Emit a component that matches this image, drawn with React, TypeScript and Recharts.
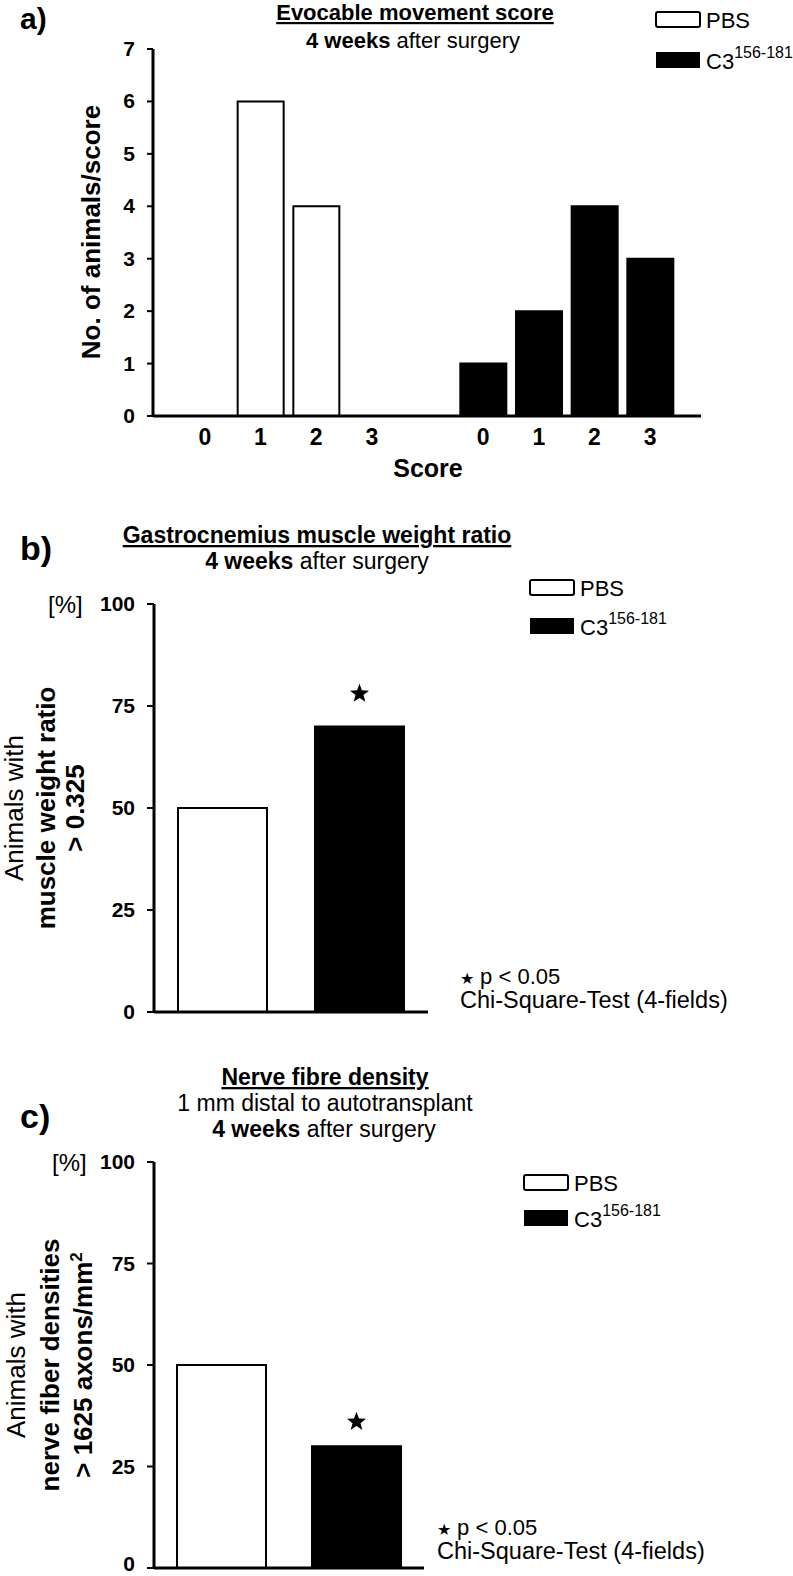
// Three bar panels: evocable movement score, muscle weight ratio, nerve fibre density
import React from 'react';
import { BarChart, Bar, XAxis, YAxis, Cell, ReferenceDot } from 'recharts';

const FONT = '"Liberation Sans", Arial, Helvetica, sans-serif';

// panel a
const scoreKeys = ['pbs0', 'pbs1', 'pbs2', 'pbs3', 'gap', 'c30', 'c31', 'c32', 'c33'];
const scoreTickLabels = ['0', '1', '2', '3', '', '0', '1', '2', '3'];
const pbsScoreCounts = [0, 6, 4, 0];
const c3ScoreCounts = [1, 2, 4, 3];
const countTicks = [0, 1, 2, 3, 4, 5, 6, 7];

// panels b + c
const groupNames = ['PBS', 'C3'];
const muscleRatioPct = [50, 70];
const nerveDensityPct = [50, 30];
const pctTicks = [0, 25, 50, 75, 100];
const muscleStarPct = 78;
const nerveStarPct = 36;

const scoreData = scoreKeys.map((key, i) => ({
  key,
  pbs: i < 4 ? pbsScoreCounts[i] : null,
  c3: i > 4 ? c3ScoreCounts[i - 5] : null,
}));
const muscleData = groupNames.map((g, i) => ({ group: g, value: muscleRatioPct[i] }));
const nerveData = groupNames.map((g, i) => ({ group: g, value: nerveDensityPct[i] }));

const barFills = ['#ffffff', '#000000'];

function YTick({ x, y, payload }: any) {
  return (
    <text x={x} y={y} dy={7} textAnchor="end" fontSize={21} fontWeight="bold" fontFamily={FONT} fill="#000">
      {payload.value}
    </text>
  );
}

// bottom panel sits on the page edge, lift its 0 a little
function YTickLow({ x, y, payload }: any) {
  return (
    <text x={x} y={y} dy={payload.value === 0 ? 3 : 7} textAnchor="end" fontSize={21} fontWeight="bold" fontFamily={FONT} fill="#000">
      {payload.value}
    </text>
  );
}

function ScoreTick({ x, y, payload }: any) {
  const label = scoreTickLabels[scoreKeys.indexOf(payload.value)];
  return (
    <text x={x} y={y} dy={21} textAnchor="middle" fontSize={23} fontWeight="bold" fontFamily={FONT} fill="#000">
      {label}
    </text>
  );
}

function Star({ cx, cy, r }: { cx: number; cy: number; r: number }) {
  const pts: string[] = [];
  for (let i = 0; i < 10; i++) {
    const rad = i % 2 === 0 ? r : r * 0.42;
    const a = -Math.PI / 2 + (i * Math.PI) / 5;
    pts.push(`${cx + rad * Math.cos(a)},${cy + rad * Math.sin(a)}`);
  }
  return <polygon points={pts.join(' ')} fill="#000" />;
}

/** legend: open box PBS, filled box C3 156-181 */
function LegendBlock({ x, y, gap }: { x: number; y: number; gap: number }) {
  return (
    <g fontFamily={FONT} fill="#000">
      <rect x={x} y={y} width={44} height={15} fill="#fff" stroke="#000" strokeWidth={2} rx={2} />
      <text x={x + 50} y={y + 16} fontSize={22}>PBS</text>
      <rect x={x} y={y + gap} width={44} height={16} fill="#000" />
      <text x={x + 50} y={y + gap + 17} fontSize={22}>
        C3
        <tspan fontSize={16} dy={-11}>156-181</tspan>
      </text>
    </g>
  );
}

function PLabel({ x, y }: { x: number; y: number }) {
  return (
    <g fontFamily={FONT} fill="#000">
      <text x={x} y={y} fontSize={22}>
        <tspan fontSize={16}>★</tspan> p &lt; 0.05
      </text>
      <text x={x} y={y + 24} fontSize={23.5}>Chi-Square-Test (4-fields)</text>
    </g>
  );
}

const axisLine = { stroke: '#000', strokeWidth: 3 };
const tickLine = { stroke: '#000', strokeWidth: 2 };

export default function App() {
  return (
    <div style={{ position: 'absolute', left: 0, top: 0, width: 793, height: 1576, background: '#fff' }}>
      {/* a) */}
      <div style={{ position: 'absolute', left: 0, top: 0 }}>
        <BarChart width={793} height={490} data={scoreData} margin={{ top: 49, right: 92, bottom: 44, left: 93 }}>
          <XAxis
            dataKey="key"
            height={30}
            interval={0}
            tickLine={false}
            tickSize={0}
            tickMargin={8}
            axisLine={axisLine}
            padding={{ left: 24, right: 23 }}
            tick={<ScoreTick />}
          />
          <YAxis
            width={60}
            domain={[0, 7]}
            ticks={countTicks}
            interval={0}
            tickSize={6}
            tickMargin={12}
            axisLine={axisLine}
            tickLine={tickLine}
            tick={<YTick />}
          />
          <Bar dataKey="pbs" stackId="s" barSize={46} fill="#fff" stroke="#000" strokeWidth={2} isAnimationActive={false} />
          <Bar dataKey="c3" stackId="s" barSize={46} fill="#000" stroke="#000" strokeWidth={2} isAnimationActive={false} />
        </BarChart>
      </div>

      {/* b) */}
      <div style={{ position: 'absolute', left: 0, top: 520 }}>
        <BarChart width={793} height={515} data={muscleData} margin={{ top: 84, right: 365, bottom: 18, left: 94 }}>
          <XAxis dataKey="group" height={5} tick={false} tickLine={false} axisLine={axisLine} />
          <YAxis
            width={60}
            domain={[0, 100]}
            ticks={pctTicks}
            interval={0}
            tickSize={7}
            tickMargin={12}
            axisLine={axisLine}
            tickLine={tickLine}
            tick={<YTick />}
          />
          <Bar dataKey="value" barSize={89} stroke="#000" strokeWidth={2} isAnimationActive={false}>
            {muscleData.map((d, i) => (
              <Cell key={d.group} fill={barFills[i]} />
            ))}
          </Bar>
          <ReferenceDot x="C3" y={muscleStarPct} r={10} shape={(p: any) => <Star cx={p.cx} cy={p.cy} r={10} />} />
        </BarChart>
      </div>

      {/* c) */}
      <div style={{ position: 'absolute', left: 0, top: 1040 }}>
        <BarChart width={793} height={536} data={nerveData} margin={{ top: 122, right: 369, bottom: 3, left: 94 }}>
          <XAxis dataKey="group" height={5} tick={false} tickLine={false} axisLine={axisLine} />
          <YAxis
            width={60}
            domain={[0, 100]}
            ticks={pctTicks}
            interval={0}
            tickSize={7}
            tickMargin={12}
            axisLine={axisLine}
            tickLine={tickLine}
            tick={<YTickLow />}
          />
          <Bar dataKey="value" barSize={89} stroke="#000" strokeWidth={2} isAnimationActive={false}>
            {nerveData.map((d, i) => (
              <Cell key={d.group} fill={barFills[i]} />
            ))}
          </Bar>
          <ReferenceDot x="C3" y={nerveStarPct} r={10} shape={(p: any) => <Star cx={p.cx} cy={p.cy} r={10} />} />
        </BarChart>
      </div>

      {/* text overlay */}
      <svg width={793} height={1576} style={{ position: 'absolute', left: 0, top: 0, pointerEvents: 'none' }}>
        <g fontFamily={FONT} fill="#000">
          {/* a */}
          <text x={20} y={29} fontSize={30} fontWeight="bold">a)</text>
          <text x={415} y={20} fontSize={22} fontWeight="bold" textAnchor="middle" textDecoration="underline">
            Evocable movement score
          </text>
          <text x={413} y={48} fontSize={22} textAnchor="middle">
            <tspan fontWeight="bold">4 weeks</tspan> after surgery
          </text>
          <text x={428} y={477} fontSize={25} fontWeight="bold" textAnchor="middle">Score</text>
          <text transform="translate(100 232) rotate(-90)" fontSize={26} fontWeight="bold" textAnchor="middle">
            No. of animals/score
          </text>

          {/* b */}
          <text x={20} y={560} fontSize={34} fontWeight="bold">b)</text>
          <text x={317} y={543} fontSize={23} fontWeight="bold" textAnchor="middle" textDecoration="underline">
            Gastrocnemius muscle weight ratio
          </text>
          <text x={317} y={569} fontSize={23} textAnchor="middle">
            <tspan fontWeight="bold">4 weeks</tspan> after surgery
          </text>
          <text x={48} y={613} fontSize={24}>[%]</text>
          <text transform="translate(23 808) rotate(-90)" fontSize={26} textAnchor="middle">Animals with</text>
          <text transform="translate(55 808) rotate(-90)" fontSize={26} fontWeight="bold" textAnchor="middle">
            muscle weight ratio
          </text>
          <text transform="translate(84 808) rotate(-90)" fontSize={26} fontWeight="bold" textAnchor="middle">
            &gt; 0.325
          </text>

          {/* c */}
          <text x={20} y={1128} fontSize={34} fontWeight="bold">c)</text>
          <text x={325} y={1085} fontSize={23} fontWeight="bold" textAnchor="middle" textDecoration="underline">
            Nerve fibre density
          </text>
          <text x={325} y={1111} fontSize={23} textAnchor="middle">1 mm distal to autotransplant</text>
          <text x={324} y={1137} fontSize={23} textAnchor="middle">
            <tspan fontWeight="bold">4 weeks</tspan> after surgery
          </text>
          <text x={52} y={1171} fontSize={24}>[%]</text>
          <text transform="translate(25 1365) rotate(-90)" fontSize={26} textAnchor="middle">Animals with</text>
          <text transform="translate(59 1365) rotate(-90)" fontSize={26} fontWeight="bold" textAnchor="middle">
            nerve fiber densities
          </text>
          <text transform="translate(92 1365) rotate(-90)" fontSize={26} fontWeight="bold" textAnchor="middle">
            &gt; 1625 axons/mm<tspan fontSize={17} dy={-10}>2</tspan>
          </text>
        </g>
        <LegendBlock x={656} y={12} gap={40} />
        <LegendBlock x={530} y={580} gap={38} />
        <LegendBlock x={524} y={1175} gap={35} />
        <PLabel x={460} y={984} />
        <PLabel x={437} y={1535} />
      </svg>
    </div>
  );
}
